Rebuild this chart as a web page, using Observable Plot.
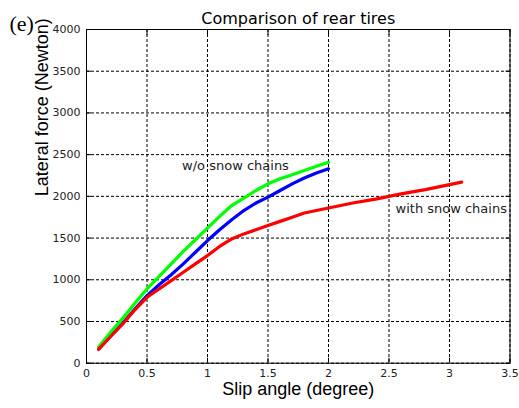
<!DOCTYPE html>
<html>
<head>
<meta charset="utf-8">
<script src="https://cdn.jsdelivr.net/npm/d3@7"></script>
<script src="https://cdn.jsdelivr.net/npm/@observablehq/plot@0.6"></script>
<style>
  html, body { margin: 0; padding: 0; background: #fff; }
  #chart { width: 519px; height: 408px; }
</style>
</head>
<body>
<div id="chart"></div>
<script>
// ---- data ----
const xTicks = [0, 0.5, 1, 1.5, 2, 2.5, 3, 3.5];
const yTicks = [0, 500, 1000, 1500, 2000, 2500, 3000, 3500, 4000];

const greenSlip  = [0.1, 0.2, 0.3, 0.4, 0.5, 0.6, 0.7, 0.8, 0.9, 1.0, 1.1, 1.2, 1.3, 1.4, 1.5, 1.6, 1.7, 1.8, 1.9, 2.0];
const greenForce = [195, 370, 540, 720, 890, 1040, 1190, 1340, 1480, 1620, 1760, 1890, 1980, 2070, 2150, 2210, 2260, 2310, 2360, 2410];

const blueSlip  = [0.1, 0.2, 0.3, 0.4, 0.5, 0.6, 0.7, 0.8, 0.9, 1.0, 1.1, 1.2, 1.3, 1.4, 1.5, 1.6, 1.7, 1.8, 1.9, 2.0];
const blueForce = [170, 330, 480, 650, 810, 940, 1060, 1190, 1330, 1470, 1600, 1720, 1830, 1920, 1990, 2070, 2150, 2220, 2280, 2330];

const redSlip  = [0.1, 0.2, 0.3, 0.4, 0.5, 0.6, 0.7, 0.8, 0.9, 1.0, 1.1, 1.2, 1.3, 1.4, 1.5, 1.6, 1.7, 1.8, 1.9, 2.0, 2.2, 2.4, 2.6, 2.8, 3.0, 3.1];
const redForce = [165, 320, 470, 640, 790, 890, 990, 1090, 1190, 1290, 1400, 1490, 1550, 1600, 1650, 1700, 1750, 1800, 1830, 1860, 1920, 1970, 2030, 2080, 2140, 2170];

const annotations = [
  {text: "w/o snow chains", x: 0.79, y: 2369},
  {text: "with snow chains", x: 2.554, y: 1854}
];

const toRows = (xs, ys) => xs.map((x, i) => ({x, y: ys[i]}));
const green = toRows(greenSlip, greenForce);
const blue = toRows(blueSlip, blueForce);
const red = toRows(redSlip, redForce);

const noLabel = () => "";

const chart = Plot.plot({
  width: 519,
  height: 408,
  marginLeft: 86,
  marginRight: 9.5,
  marginTop: 29,
  marginBottom: 45.3,
  style: {background: "#fff", overflow: "visible"},
  x: {domain: [0, 3.5], ticks: xTicks},
  y: {domain: [0, 4000], ticks: yTicks},
  marks: [
    Plot.gridX(xTicks, {stroke: "#000", strokeOpacity: 1, strokeDasharray: "3,2"}),
    Plot.gridY(yTicks, {stroke: "#000", strokeOpacity: 1, strokeDasharray: "3,2"}),
    Plot.axisX({ticks: xTicks, tickSize: 0, tickPadding: 6, tickFormat: d => String(d),
      fontFamily: "DejaVu Sans", fontSize: 11, color: "#222", label: null}),
    Plot.axisY({ticks: yTicks, tickSize: 0, tickPadding: 6, tickFormat: d => String(d),
      fontFamily: "DejaVu Sans", fontSize: 11, color: "#222", label: null}),
    // inward tick marks on all four sides (MATLAB style)
    Plot.axisX({ticks: xTicks, anchor: "bottom", tickSize: -5, tickFormat: noLabel, label: null, stroke: "#000"}),
    Plot.axisX({ticks: xTicks, anchor: "top", tickSize: -5, tickFormat: noLabel, label: null, stroke: "#000"}),
    Plot.axisY({ticks: yTicks, anchor: "left", tickSize: -5, tickFormat: noLabel, label: null, stroke: "#000"}),
    Plot.axisY({ticks: yTicks, anchor: "right", tickSize: -5, tickFormat: noLabel, label: null, stroke: "#000"}),
    Plot.frame({stroke: "#000", strokeWidth: 1}),
    Plot.line(blue, {x: "x", y: "y", stroke: "#0000ff", strokeWidth: 3.2}),
    Plot.line(green, {x: "x", y: "y", stroke: "#00ff00", strokeWidth: 3.2}),
    Plot.line(red, {x: "x", y: "y", stroke: "#ff0000", strokeWidth: 3.2}),
    Plot.text(annotations, {x: "x", y: "y", text: "text", textAnchor: "start",
      fontFamily: "DejaVu Sans", fontSize: 13, fill: "#222"}),
    // title
    Plot.text(["Comparison of rear tires"], {frameAnchor: "top", dy: -16.5,
      fontFamily: "DejaVu Sans", fontSize: 16, fill: "#000"}),
    // panel tag
    Plot.text(["(e)"], {frameAnchor: "top-left", dx: -77, dy: -14, textAnchor: "start",
      fontFamily: "Liberation Serif", fontSize: 22, fill: "#000"}),
    // axis labels
    Plot.text(["Slip angle (degree)"], {frameAnchor: "bottom", dy: 32,
      fontFamily: "Liberation Sans", fontSize: 18, fill: "#000"}),
    Plot.text(["Lateral force (Newton)"], {frameAnchor: "left", dx: -44, rotate: -90,
      fontFamily: "Liberation Sans", fontSize: 18, fill: "#000"})
  ]
});
document.getElementById("chart").appendChild(chart);
</script>
</body>
</html>
